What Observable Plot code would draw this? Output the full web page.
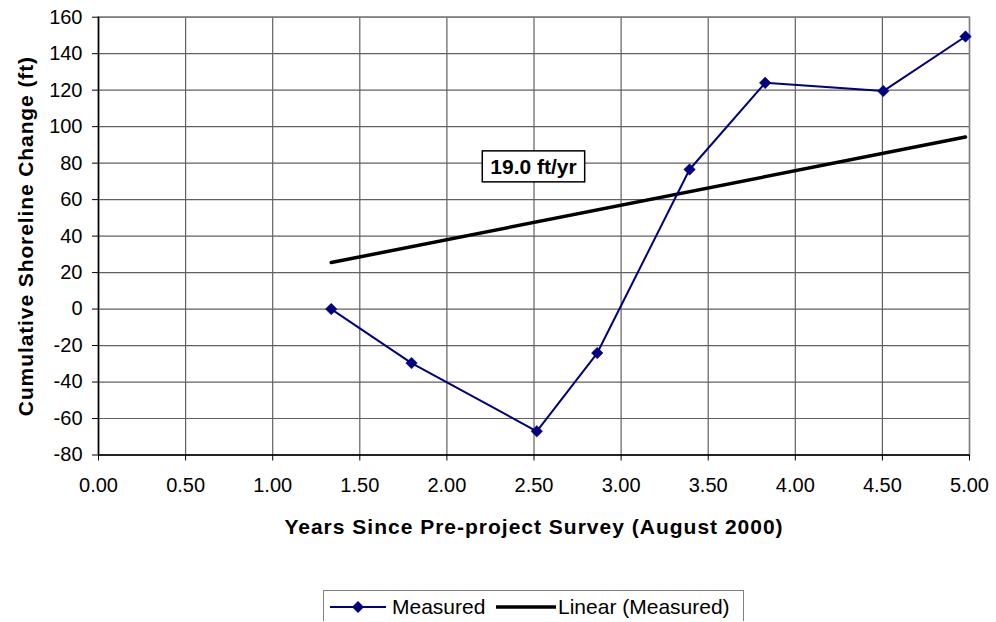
<!DOCTYPE html>
<html>
<head>
<meta charset="utf-8">
<script src="https://cdn.jsdelivr.net/npm/d3@7"></script>
<script src="https://cdn.jsdelivr.net/npm/@observablehq/plot@0.6"></script>
<style>
  html, body { margin: 0; padding: 0; background: #fff; }
  #wrap { position: relative; width: 996px; height: 622px; font-family: "Liberation Sans", Arial, sans-serif; }
  #legend { position: absolute; left: 323px; top: 590px; width: 421px; height: 31px; border: 1px solid #808080; border-bottom: none; box-sizing: border-box; }
  #legend .item { position: absolute; top: 0; height: 31px; display: flex; align-items: center; font-size: 21px; color: #000; }
</style>
</head>
<body>
<div id="wrap">
  <div id="chart"></div>
  <div id="legend"></div>
</div>
<script>
// ---- data ----
const years    = [1.336, 1.797, 2.516, 2.863, 3.393, 3.827, 4.505, 4.977];
const measured = [0, -29.6, -67.0, -24.1, 76.5, 124.0, 119.5, 149.4];
const trendYears = [1.336, 4.977];
const trendValues = [25.5, 94.3];
const rateLabel = "19.0 ft/yr";
const rateLabelX = [2.497];
const rateLabelY = [77.8];
const xTicks = [0, 0.5, 1, 1.5, 2, 2.5, 3, 3.5, 4, 4.5, 5];
const yTicks = [-80, -60, -40, -20, 0, 20, 40, 60, 80, 100, 120, 140, 160];
const xTitle = "Years Since Pre-project Survey (August 2000)";
const yTitle = "Cumulative Shoreline Change (ft)";
const seriesNames = ["Measured", "Linear (Measured)"];
const seriesColors = ["#000080", "#000000"];

const measuredData = years.map((x, i) => ({x, y: measured[i]}));
const trendData = trendYears.map((x, i) => ({x, y: trendValues[i]}));
const labelData = [{x: rateLabelX[0], y: rateLabelY[0], text: rateLabel}];

const chart = Plot.plot({
  width: 996,
  height: 580,
  marginLeft: 98,
  marginRight: 27,
  marginTop: 16.7,
  marginBottom: 125.5,
  style: {fontFamily: "'Liberation Sans', Arial, sans-serif", background: "#fff", color: "#000"},
  x: {domain: [xTicks[0], xTicks[xTicks.length - 1]]},
  y: {domain: [yTicks[0], yTicks[yTicks.length - 1]]},
  marks: [
    Plot.gridX(xTicks, {stroke: "#606060", strokeOpacity: 1, strokeWidth: 1.2}),
    Plot.gridY(yTicks, {stroke: "#606060", strokeOpacity: 1, strokeWidth: 1.2}),
    Plot.frame({stroke: "#808080", strokeWidth: 1.5}),
    Plot.ruleX([xTicks[0]], {stroke: "#000", strokeWidth: 1.5}),
    Plot.ruleY([yTicks[0]], {stroke: "#000", strokeWidth: 1.5}),
    Plot.axisX(xTicks, {tickFormat: d => d.toFixed(2), tickSize: 6, tickPadding: 17, fontSize: 20, label: null, stroke: "#000"}),
    Plot.axisY(yTicks, {tickFormat: d => String(d), tickSize: 6, tickPadding: 10, fontSize: 20, label: null, stroke: "#000"}),
    Plot.line(trendData, {x: "x", y: "y", stroke: seriesColors[1], strokeWidth: 3.5}),
    Plot.line(measuredData, {x: "x", y: "y", stroke: seriesColors[0], strokeWidth: 2}),
    Plot.dot(measuredData, {x: "x", y: "y", symbol: "diamond2", r: 5.2, fill: seriesColors[0], stroke: seriesColors[0], strokeWidth: 0.5}),
    Plot.text(labelData, {x: "x", y: "y", text: "text", fontSize: 21, fontWeight: "bold", fill: "#000", lineAnchor: "middle"}),
    Plot.text([xTitle], {frameAnchor: "bottom", dy: 72, fontSize: 21, fontWeight: "bold", fill: "#000", lineAnchor: "middle", textAnchor: "middle"}),
    Plot.text([yTitle], {frameAnchor: "left", dx: -72, rotate: -90, fontSize: 21, fontWeight: "bold", fill: "#000", lineAnchor: "middle", textAnchor: "middle"})
  ]
});
document.getElementById("chart").appendChild(chart);

// letter spacing for titles, and boxed rate label
d3.select(chart).selectAll("text").each(function() {
  const t = d3.select(this);
  const s = t.text();
  if (s === xTitle) t.style("letter-spacing", "1px");
  if (s === yTitle) t.style("letter-spacing", "0.9px");
  if (s === rateLabel) {
    const bb = this.getBBox();
    const tr = this.getAttribute("transform") || "";
    d3.select(this.parentNode).insert("rect", () => this)
      .attr("transform", tr)
      .attr("x", bb.x - 8).attr("y", bb.y - 4)
      .attr("width", bb.width + 16).attr("height", bb.height + 8)
      .attr("fill", "#fff").attr("stroke", "#000").attr("stroke-width", 1.5);
  }
});

// legend
const legend = d3.select("#legend");
const it1 = legend.append("div").attr("class", "item").style("left", "6px");
const s1 = it1.append("svg").attr("width", 56).attr("height", 31);
s1.append("line").attr("x1", 0).attr("x2", 56).attr("y1", 16).attr("y2", 16).attr("stroke", seriesColors[0]).attr("stroke-width", 2);
s1.append("path").attr("d", d3.symbol(d3.symbolDiamond2, 90)()).attr("transform", "translate(28,16)").attr("fill", seriesColors[0]);
it1.append("span").style("margin-left", "6px").text(seriesNames[0]);
const it2 = legend.append("div").attr("class", "item").style("left", "172px");
const s2 = it2.append("svg").attr("width", 60).attr("height", 31);
s2.append("line").attr("x1", 0).attr("x2", 60).attr("y1", 16).attr("y2", 16).attr("stroke", seriesColors[1]).attr("stroke-width", 3.5);
it2.append("span").style("margin-left", "2px").text(seriesNames[1]);
</script>
</body>
</html>
